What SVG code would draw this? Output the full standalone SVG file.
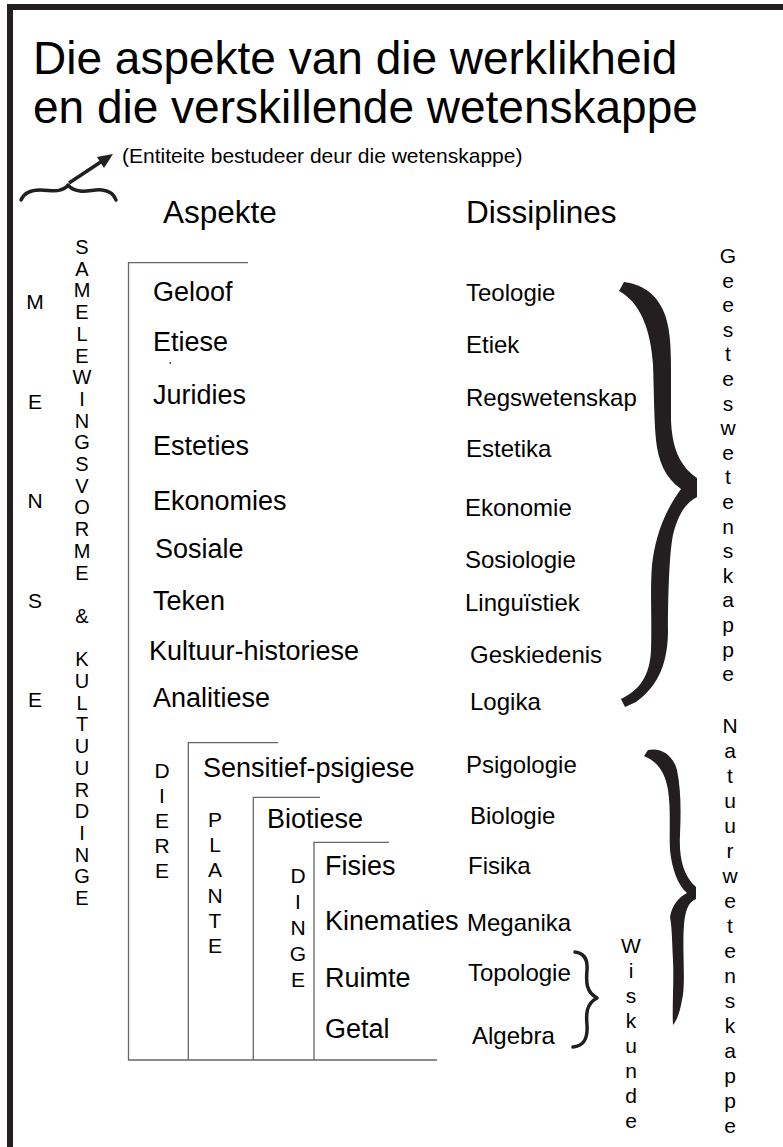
<svg xmlns="http://www.w3.org/2000/svg" width="783" height="1147" viewBox="0 0 783 1147">
<style>
text{font-family:"Liberation Sans",Arial,Helvetica,sans-serif;fill:#000}
.ttl{font-size:46px}
.sub{font-size:21px}
.hd{font-size:31.5px}
.asp{font-size:27px}
.dis{font-size:24px}
.v{font-size:21px;text-anchor:middle}
.vs{font-size:20px;text-anchor:middle}
.box{fill:none;stroke:#666;stroke-width:1.3}
.br{fill:#231f20}
.brs{fill:none;stroke:#231f20;stroke-linecap:round;stroke-linejoin:round}
</style>
<rect width="783" height="1147" fill="#fff"/>
<g id="frame">
<rect x="7" y="4" width="776" height="6" fill="#231f20"/>
<rect x="7" y="4" width="6" height="1143" fill="#231f20"/>
</g>
<g id="title">
<text class="ttl" x="33" y="74">Die aspekte van die werklikheid</text>
<text class="ttl" x="33" y="123">en die verskillende wetenskappe</text>
</g>
<g id="subtitle">
<text class="sub" x="122" y="163">(Entiteite bestudeer deur die wetenskappe)</text>
</g>
<g id="connectors">
<path class="brs" stroke-width="3.5" d="M21,200 C24,193 30,190 40,190 C48,190 55,192 60,190 C64,189 66,188 68,185 C70,188 73,190 80,191 C88,192 95,189 102,190 C110,191 114,194 116,200"/>
<line x1="69" y1="183" x2="103" y2="160.5" stroke="#231f20" stroke-width="3.5"/>
<polygon points="113,154 97,157 104,168" fill="#231f20"/>
<path class="br" d="M624,282 C640,284 655,292 663,310 C670,325 671,345 671,370 L671,420 C672,445 678,465 697,478 L697,497 C685,503 678,515 673,535 C669,555 668,600 668,630 C668,660 660,685 636,702 L625,707 L621,699 C640,690 650,675 651,650 C652,620 650,590 652,565 C655,540 662,515 681,489 C665,478 658,460 656,440 C654,420 654,390 653,365 C651,330 640,302 619,291 Z"/>
<path class="br" d="M648,750 C661,747 673,755 677,770 C681,790 681,810 680,835 C679,855 682,875 696,887 L696,899 C688,902 685,912 684,925 C682,950 686,985 682,1000 C680,1012 677,1020 673,1025 C672,1005 674,985 673,960 C672,940 672,928 670,917 C672,905 679,897 687,893 C678,885 672,870 670,850 C669,830 671,810 668,790 C665,772 658,762 644,756 Z"/>
<path class="brs" stroke-width="3.5" d="M575,952 C583,953 588,958 587,970 C586,982 586,992 597,998 C586,1004 586,1014 587,1025 C588,1040 583,1046 573,1047"/>
</g>
<g id="boxes">
<polyline class="box" points="248,262.7 128.5,262.7 128.5,1060 437,1060"/>
<polyline class="box" points="278,742.7 188.3,742.7 188.3,1060"/>
<polyline class="box" points="320,797.3 253.3,797.3 253.3,1060"/>
<polyline class="box" points="389,842.3 314,842.3 314,1060"/>
</g>
<g id="headings">
<text class="hd" x="163" y="223">Aspekte</text>
<text class="hd" x="466" y="223">Dissiplines</text>
</g>
<g id="aspekte">
<text class="asp" x="153" y="301">Geloof</text>
<text class="asp" x="153" y="351">Etiese</text>
<rect x="169.5" y="362" width="1.5" height="2" fill="#555"/>
<text class="asp" x="153" y="404">Juridies</text>
<text class="asp" x="153" y="455">Esteties</text>
<text class="asp" x="153" y="510">Ekonomies</text>
<text class="asp" x="155" y="558">Sosiale</text>
<text class="asp" x="153" y="610">Teken</text>
<text class="asp" x="149" y="660">Kultuur-historiese</text>
<text class="asp" x="153" y="707">Analitiese</text>
<text class="asp" x="203" y="777">Sensitief-psigiese</text>
<text class="asp" x="267" y="828">Biotiese</text>
<text class="asp" x="325" y="875">Fisies</text>
<text class="asp" x="325" y="930">Kinematies</text>
<text class="asp" x="325" y="987">Ruimte</text>
<text class="asp" x="325" y="1038">Getal</text>
</g>
<g id="dissiplines">
<text class="dis" x="466" y="301">Teologie</text>
<text class="dis" x="466" y="353">Etiek</text>
<text class="dis" x="466" y="406">Regswetenskap</text>
<text class="dis" x="466" y="457">Estetika</text>
<text class="dis" x="465" y="516">Ekonomie</text>
<text class="dis" x="465" y="568">Sosiologie</text>
<text class="dis" x="465" y="611">Linguïstiek</text>
<text class="dis" x="470" y="663">Geskiedenis</text>
<text class="dis" x="470" y="710">Logika</text>
<text class="dis" x="466" y="773">Psigologie</text>
<text class="dis" x="470" y="824">Biologie</text>
<text class="dis" x="468" y="874">Fisika</text>
<text class="dis" x="467" y="931">Meganika</text>
<text class="dis" x="468" y="981">Topologie</text>
<text class="dis" x="472" y="1044">Algebra</text>
</g>
<g id="mense">
<text class="v" x="35" y="309"><tspan x="35" y="309">M</tspan><tspan x="35" y="408.5">E</tspan><tspan x="35" y="508">N</tspan><tspan x="35" y="607.5">S</tspan><tspan x="35" y="707">E</tspan></text>
</g>
<g id="samelewingsvorme">
<text class="vs" x="82" y="254"><tspan x="82" y="254">S</tspan><tspan x="82" dy="21.7">A</tspan><tspan x="82" dy="21.7">M</tspan><tspan x="82" dy="21.7">E</tspan><tspan x="82" dy="21.7">L</tspan><tspan x="82" dy="21.7">E</tspan><tspan x="82" dy="21.7">W</tspan><tspan x="82" dy="21.7">I</tspan><tspan x="82" dy="21.7">N</tspan><tspan x="82" dy="21.7">G</tspan><tspan x="82" dy="21.7">S</tspan><tspan x="82" dy="21.7">V</tspan><tspan x="82" dy="21.7">O</tspan><tspan x="82" dy="21.7">R</tspan><tspan x="82" dy="21.7">M</tspan><tspan x="82" dy="21.7">E</tspan><tspan x="82" dy="43.4">&amp;</tspan><tspan x="82" dy="43.4">K</tspan><tspan x="82" dy="21.7">U</tspan><tspan x="82" dy="21.7">L</tspan><tspan x="82" dy="21.7">T</tspan><tspan x="82" dy="21.7">U</tspan><tspan x="82" dy="21.7">U</tspan><tspan x="82" dy="21.7">R</tspan><tspan x="82" dy="21.7">D</tspan><tspan x="82" dy="21.7">I</tspan><tspan x="82" dy="21.7">N</tspan><tspan x="82" dy="21.7">G</tspan><tspan x="82" dy="21.7">E</tspan></text>
</g>
<g id="diere">
<text class="v" x="162" y="778"><tspan x="162" y="778">D</tspan><tspan x="162" dy="25">I</tspan><tspan x="162" dy="25">E</tspan><tspan x="162" dy="25">R</tspan><tspan x="162" dy="25">E</tspan></text>
</g>
<g id="plante">
<text class="v" x="215" y="827"><tspan x="215" y="827">P</tspan><tspan x="215" dy="25.2">L</tspan><tspan x="215" dy="25.2">A</tspan><tspan x="215" dy="25.2">N</tspan><tspan x="215" dy="25.2">T</tspan><tspan x="215" dy="25.2">E</tspan></text>
</g>
<g id="dinge">
<text class="v" x="298" y="883"><tspan x="298" y="883">D</tspan><tspan x="298" dy="26">I</tspan><tspan x="298" dy="26">N</tspan><tspan x="298" dy="26">G</tspan><tspan x="298" dy="26">E</tspan></text>
</g>
<g id="geesteswetenskappe">
<text class="v" x="728" y="263"><tspan x="728" y="263">G</tspan><tspan x="728" dy="24.6">e</tspan><tspan x="728" dy="24.6">e</tspan><tspan x="728" dy="24.6">s</tspan><tspan x="728" dy="24.6">t</tspan><tspan x="728" dy="24.6">e</tspan><tspan x="728" dy="24.6">s</tspan><tspan x="728" dy="24.6">w</tspan><tspan x="728" dy="24.6">e</tspan><tspan x="728" dy="24.6">t</tspan><tspan x="728" dy="24.6">e</tspan><tspan x="728" dy="24.6">n</tspan><tspan x="728" dy="24.6">s</tspan><tspan x="728" dy="24.6">k</tspan><tspan x="728" dy="24.6">a</tspan><tspan x="728" dy="24.6">p</tspan><tspan x="728" dy="24.6">p</tspan><tspan x="728" dy="24.6">e</tspan></text>
</g>
<g id="natuurwetenskappe">
<text class="v" x="730" y="733"><tspan x="730" y="733">N</tspan><tspan x="730" dy="25">a</tspan><tspan x="730" dy="25">t</tspan><tspan x="730" dy="25">u</tspan><tspan x="730" dy="25">u</tspan><tspan x="730" dy="25">r</tspan><tspan x="730" dy="25">w</tspan><tspan x="730" dy="25">e</tspan><tspan x="730" dy="25">t</tspan><tspan x="730" dy="25">e</tspan><tspan x="730" dy="25">n</tspan><tspan x="730" dy="25">s</tspan><tspan x="730" dy="25">k</tspan><tspan x="730" dy="25">a</tspan><tspan x="730" dy="25">p</tspan><tspan x="730" dy="25">p</tspan><tspan x="730" dy="25">e</tspan></text>
</g>
<g id="wiskunde">
<text class="v" x="631" y="953"><tspan x="631" y="953">W</tspan><tspan x="631" dy="25">i</tspan><tspan x="631" dy="25">s</tspan><tspan x="631" dy="25">k</tspan><tspan x="631" dy="25">u</tspan><tspan x="631" dy="25">n</tspan><tspan x="631" dy="25">d</tspan><tspan x="631" dy="25">e</tspan></text>
</g>
</svg>
